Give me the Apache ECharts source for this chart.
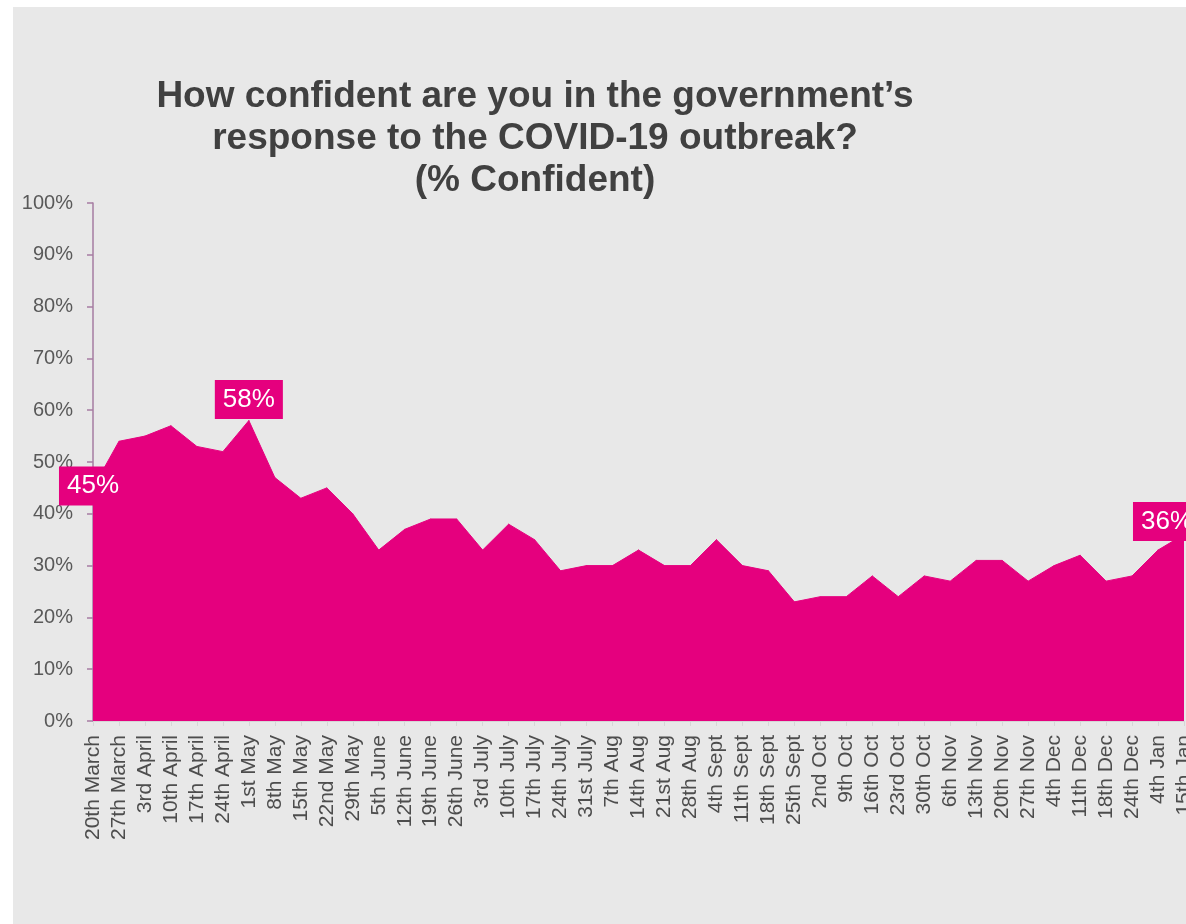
<!DOCTYPE html>
<html>
<head>
<meta charset="utf-8">
<script src="https://cdn.jsdelivr.net/npm/echarts@6/dist/echarts.min.js"></script>
<style>
  html, body { margin: 0; padding: 0; background: #ffffff; }
  #wrap { position: relative; width: 1186px; height: 924px; overflow: hidden; }
  #panel { position: absolute; left: 13px; top: 7px; right: 0; bottom: 0; background: #e8e8e8; }
  #chart { position: absolute; left: 0; top: 0; width: 1186px; height: 924px; }
</style>
</head>
<body>
<div id="wrap">
  <div id="panel"></div>
  <div id="chart"></div>
</div>
<script>
// Weekly survey waves
const categories = [
  '20th March', '27th March', '3rd April', '10th April', '17th April', '24th April',
  '1st May', '8th May', '15th May', '22nd May', '29th May', '5th June', '12th June',
  '19th June', '26th June', '3rd July', '10th July', '17th July', '24th July',
  '31st July', '7th Aug', '14th Aug', '21st Aug', '28th Aug', '4th Sept', '11th Sept',
  '18th Sept', '25th Sept', '2nd Oct', '9th Oct', '16th Oct', '23rd Oct', '30th Oct',
  '6th Nov', '13th Nov', '20th Nov', '27th Nov', '4th Dec', '11th Dec', '18th Dec',
  '24th Dec', '4th Jan', '15th Jan'
];

// % confident in the government's response
const confident = [
  45, 54, 55, 57, 53, 52, 58, 47, 43, 45, 40, 33, 37, 39, 39, 33, 38, 35, 29, 30,
  30, 33, 30, 30, 35, 30, 29, 23, 24, 24, 28, 24, 28, 27, 31, 31, 27, 30, 32, 27,
  28, 33, 36
];

// Percent ticks on the value axis
const yTicks = { min: 0, max: 100, step: 10 };

const titleText = 'How confident are you in the government\u2019s\nresponse to the COVID-19 outbreak?\n(% Confident)';

const MAGENTA = '#e5007e';

const labelBase = {
  show: true,
  formatter: '{c}%',
  color: '#ffffff',
  fontFamily: 'Liberation Sans, Arial, sans-serif',
  fontSize: 26,
  lineHeight: 27,
  backgroundColor: MAGENTA,
  padding: [6, 8, 6, 8]
};

// Highlighted waves: first, peak and latest
const labelled = {
  0: { position: 'inside', offset: [0, -2] },
  6: { position: 'top', distance: 1 },
  42: { position: 'top', distance: 0, offset: [-17, 7] }
};

const seriesData = confident.map(function (v, i) {
  if (labelled[i]) {
    return { value: v, label: Object.assign({}, labelBase, labelled[i]) };
  }
  return { value: v };
});

const chart = echarts.init(document.getElementById('chart'), null, { renderer: 'canvas' });

chart.setOption({
  backgroundColor: 'transparent',
  animation: false,
  title: {
    text: titleText,
    left: 530,
    top: 71,
    textAlign: 'center',
    textStyle: {
      fontFamily: 'Liberation Sans, Arial, sans-serif',
      fontWeight: 'bold',
      fontSize: 37,
      lineHeight: 42,
      color: '#404040'
    }
  },
  grid: {
    left: 93, right: 2, top: 203, bottom: 203,
    containLabel: false,
    outerBoundsMode: 'none'
  },
  xAxis: {
    type: 'category',
    data: categories,
    boundaryGap: false,
    axisLine: { show: true, lineStyle: { color: '#d6d6d6', width: 1 } },
    axisTick: { show: true, length: 5, lineStyle: { color: '#d6d6d6' } },
    axisLabel: {
      interval: 0,
      rotate: 90,
      margin: 14,
      color: '#4d4d4d',
      fontFamily: 'Liberation Sans, Arial, sans-serif',
      fontSize: 21
    },
    splitLine: { show: false }
  },
  yAxis: {
    type: 'value',
    min: yTicks.min,
    max: yTicks.max,
    interval: yTicks.step,
    axisLine: { show: true, lineStyle: { color: '#a67ca2', width: 1.5 } },
    axisTick: { show: true, length: 6, lineStyle: { color: '#a67ca2', width: 1.5 } },
    axisLabel: {
      formatter: '{value}%',
      margin: 20,
      color: '#595959',
      fontFamily: 'Liberation Sans, Arial, sans-serif',
      fontSize: 20
    },
    splitLine: { show: false }
  },
  series: [{
    type: 'line',
    data: seriesData,
    symbol: 'circle',
    symbolSize: 1,
    showSymbol: true,
    itemStyle: { color: MAGENTA },
    lineStyle: { color: MAGENTA, width: 1 },
    areaStyle: { color: MAGENTA, opacity: 1 },
    label: { show: false },
    emphasis: { disabled: true },
    z: 3
  }]
});
</script>
</body>
</html>
